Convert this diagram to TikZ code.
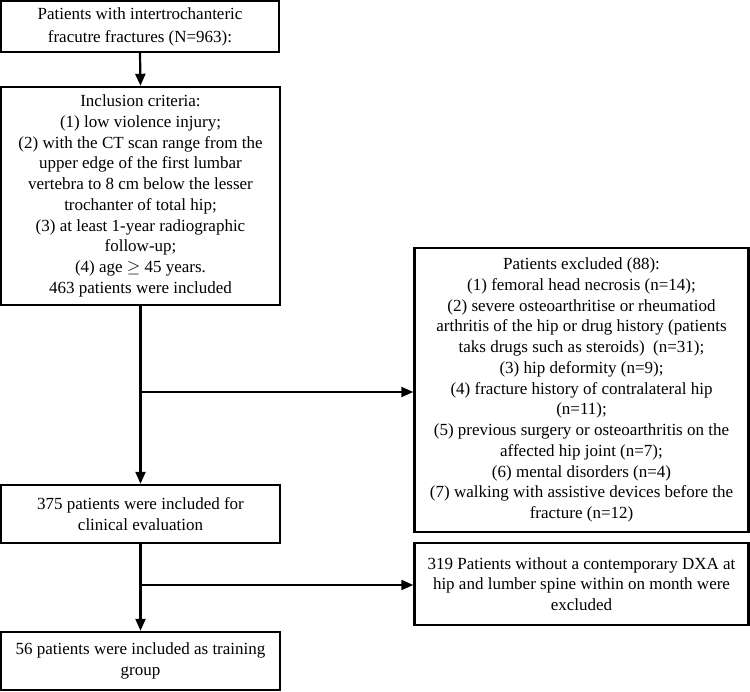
\documentclass[tikz,border=0pt]{standalone}
\usepackage{fontspec}
\setmainfont{Liberation Serif}
\usetikzlibrary{arrows.meta}
\begin{document}
\begin{tikzpicture}[x=1pt,y=-1pt,
  box/.style={draw=black,line width=2.4pt,rectangle,inner sep=0pt,align=center,
    font=\fontsize{17}{20.75}\selectfont},
  arr/.style={line width=2.2pt,-{Triangle[length=12pt,width=10pt]}}]
\useasboundingbox (0,0) rectangle (750,692);
\node[box,minimum width=278pt,minimum height=51pt,font=\fontsize{17}{23}\selectfont] (b1) at (140,26.5)
  {Patients with intertrochanteric\\fracutre fractures (N=963):};
\node[box,minimum width=279pt,minimum height=218pt] (b2) at (140.5,196)
  {Inclusion criteria:\\(1) low violence injury;\\(2) with the CT scan range from the\\upper edge of the first lumbar\\vertebra to 8 cm below the lesser\\trochanter of total hip;\\(3) at least 1-year radiographic\\follow-up;\\(4) age \(\geq\) 45 years.\\463 patients were included};
\node[box,minimum width=279pt,minimum height=58pt] (b3) at (140.5,514)
  {375 patients were included for\\clinical evaluation};
\node[box,minimum width=279pt,minimum height=58pt] (b4) at (140.5,661)
  {56 patients were included as training\\group};
\node[box,minimum width=334pt,minimum height=284pt] (ex) at (581.5,390)
  {Patients excluded (88):\\(1) femoral head necrosis (n=14);\\(2) severe osteoarthritise or rheumatiod\\arthritis of the hip or drug history (patients\\taks drugs such as steroids)\ \ (n=31);\\(3) hip deformity (n=9);\\(4) fracture history of contralateral hip\\(n=11);\\(5) previous surgery or osteoarthritis on the\\affected hip joint (n=7);\\(6) mental disorders (n=4)\\(7) walking with assistive devices before the\\fracture (n=12)};
\node[box,minimum width=334pt,minimum height=82pt] (dxa) at (581.5,584)
  {319 Patients without a contemporary DXA at\\hip and lumber spine within on month were\\excluded};
\coordinate (br1) at (140,392);
\coordinate (br2) at (140,585);
\draw[arr] (b1.south) -- (b2.north);
\draw[arr] (b2.south) -- (b3.north);
\draw[arr] (br1) -- (br1 -| ex.west);
\draw[arr] (b3.south) -- (b4.north);
\draw[arr] (br2) -- (br2 -| dxa.west);
\end{tikzpicture}
\end{document}
